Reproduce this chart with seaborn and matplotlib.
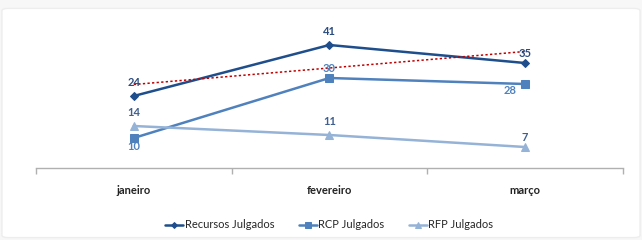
import numpy as np
import pandas as pd
import matplotlib
matplotlib.use('Agg')
import matplotlib.pyplot as plt
import seaborn as sns
from matplotlib.patches import FancyBboxPatch

# --- data ---
meses = ['janeiro', 'fevereiro', 'março']
recursos = [24, 41, 35]
rcp = [10, 30, 28]
rfp = [14, 11, 7]

series = ['Recursos Julgados', 'RCP Julgados', 'RFP Julgados']
cores = ['#1F4E8C', '#4F81BD', '#95B3D7']
cores_rotulo = ['#2B4C7E', '#4F81BD', '#3E5F8F']
marcadores = ['D', 's', '^']
tamanhos = [4, 6, 6]

sns.set_theme(style='white')
plt.rcParams['font.family'] = ['Lato', 'DejaVu Sans']

fig = plt.figure(figsize=(6.42, 2.4), dpi=100)
fig.patch.set_facecolor('#F7F7F7')
# rounded white panel behind the chart
fig.patches.append(FancyBboxPatch((0.003, 0.01), 0.994, 0.955, boxstyle='round,pad=0,rounding_size=0.01',
                                  transform=fig.transFigure, facecolor='white',
                                  edgecolor='#EDEDED', linewidth=1, zorder=-10))
ax = fig.add_axes([0.056, 0.30, 0.914, 0.625])
ax.set_zorder(5)
ax.set_facecolor('none')

pos = np.arange(len(meses))
df = pd.DataFrame({'pos': np.tile(pos, 3),
                   'valor': recursos + rcp + rfp,
                   'serie': np.repeat(series, 3)})

for nome, cor, mk, ms in zip(series, cores, marcadores, tamanhos):
    d = df[df['serie'] == nome]
    sns.lineplot(data=d, x='pos', y='valor', color=cor, marker=mk, markersize=ms,
                 markeredgecolor=cor, linewidth=1.8, label=nome, ax=ax)

# linear trendline for Recursos Julgados
sns.regplot(x=pos, y=recursos, scatter=False, ci=None, truncate=True,
            line_kws=dict(color='#C00000', linestyle=(0, (1.5, 1.5)), linewidth=1.1), ax=ax)

# data labels (offsets in points)
offsets = {
    'Recursos Julgados': [(0, 10), (0, 10), (0, 7)],
    'RCP Julgados': [(0, -6), (0, 7), (-11, -5)],
    'RFP Julgados': [(0, 10), (0, 10), (0, 7)],
}
for nome, vals, cl in zip(series, [recursos, rcp, rfp], cores_rotulo):
    for i, v in enumerate(vals):
        dx, dy = offsets[nome][i]
        ax.annotate(str(v), (pos[i], v), xytext=(dx, dy), textcoords='offset points',
                    ha='center', va='center', fontsize=8, fontweight='bold', color=cl)

ax.set_xlim(-0.5, 2.5)
ax.set_ylim(0, 50)
ax.set_xticks([-0.5, 0.5, 1.5, 2.5])
ax.set_xticklabels([])
ax.set_xticks(pos, minor=True)
ax.set_xticklabels(meses, minor=True, fontsize=8, fontweight='bold', color='#222222')
ax.tick_params(axis='x', which='major', length=4, width=1, color='#B0B0B0', bottom=True)
ax.tick_params(axis='x', which='minor', length=0, pad=12)
ax.set_yticks([])
ax.set_xlabel('')
ax.set_ylabel('')
for s in ['top', 'right', 'left']:
    ax.spines[s].set_visible(False)
ax.spines['bottom'].set_color('#B0B0B0')
ax.spines['bottom'].set_linewidth(1)

ax.legend(loc='center', bbox_to_anchor=(0.5, -0.38), ncol=3, frameon=False,
          fontsize=8, handlelength=1.6, handletextpad=0.15, columnspacing=2.2,
          markerscale=0.75)

fig.savefig('out.png', dpi=100, facecolor=fig.get_facecolor())
